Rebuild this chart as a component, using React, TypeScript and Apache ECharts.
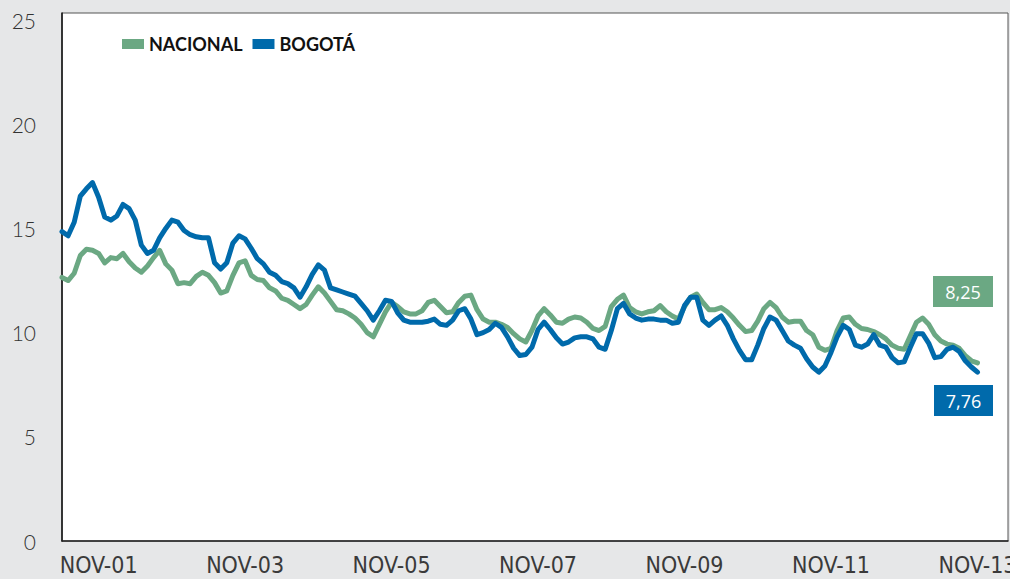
import React, { useEffect, useRef } from "react";
import * as echarts from "echarts";

const MONTHS = ["ENE", "FEB", "MAR", "ABR", "MAY", "JUN", "JUL", "AGO", "SEP", "OCT", "NOV", "DIC"];
const START_YEAR = 2001;
const START_MONTH = 4; // May 2001
const CATEGORY_COUNT = 156; // May 2001 .. Apr 2014 (axis extends past last data point)

const categories: string[] = [];
for (let i = 0; i < CATEGORY_COUNT; i++) {
  const m = (START_MONTH + i) % 12;
  const y = START_YEAR + Math.floor((START_MONTH + i) / 12);
  categories.push(MONTHS[m] + "-" + String(y % 100).padStart(2, "0"));
}

const xTickLabels = ["NOV-01", "NOV-03", "NOV-05", "NOV-07", "NOV-09", "NOV-11", "NOV-13"];

const nacional = [
  12.65, 12.5, 12.85, 13.7, 14.0, 13.95, 13.8, 13.35, 13.6, 13.55,
  13.8, 13.4, 13.1, 12.9, 13.2, 13.6, 13.95, 13.3, 13.0, 12.35,
  12.4, 12.35, 12.7, 12.9, 12.75, 12.4, 11.9, 12.0, 12.75, 13.35,
  13.45, 12.75, 12.55, 12.5, 12.15, 12.0, 11.65, 11.55, 11.35, 11.15,
  11.35, 11.8, 12.2, 11.9, 11.5, 11.1, 11.05, 10.9, 10.7, 10.4,
  10.0, 9.8, 10.4, 11.0, 11.45, 11.25, 11.0, 10.9, 10.9, 11.05,
  11.45, 11.55, 11.25, 10.95, 11.0, 11.45, 11.75, 11.8, 11.1, 10.65,
  10.5, 10.5, 10.4, 10.25, 9.95, 9.7, 9.55, 10.1, 10.8, 11.15,
  10.85, 10.5, 10.45, 10.65, 10.75, 10.7, 10.5, 10.2, 10.1, 10.3,
  11.25, 11.6, 11.8, 11.2, 11.0, 10.9, 11.0, 11.05, 11.3, 11.0,
  10.8, 10.65, 11.25, 11.7, 11.85, 11.45, 11.1, 11.1, 11.2, 11.0,
  10.7, 10.35, 10.05, 10.1, 10.55, 11.15, 11.45, 11.2, 10.75, 10.5,
  10.55, 10.55, 10.1, 9.9, 9.3, 9.15, 9.25, 10.1, 10.7, 10.75,
  10.4, 10.2, 10.15, 10.05, 9.9, 9.7, 9.4, 9.25, 9.2, 9.85,
  10.5, 10.7, 10.4, 9.9, 9.6, 9.45, 9.4, 9.25, 8.9, 8.65,
  8.55,
];

const bogota = [
  14.85, 14.65, 15.3, 16.55, 16.9, 17.2, 16.5, 15.55, 15.4, 15.6,
  16.15, 15.95, 15.4, 14.2, 13.8, 13.95, 14.55, 15.0, 15.4, 15.3,
  14.9, 14.7, 14.6, 14.55, 14.55, 13.35, 13.05, 13.35, 14.3, 14.65,
  14.5, 14.05, 13.55, 13.3, 12.9, 12.75, 12.45, 12.35, 12.15, 11.7,
  12.2, 12.8, 13.25, 13.0, 12.15, 12.05, 11.95, 11.85, 11.75, 11.4,
  11.05, 10.6, 11.05, 11.55, 11.5, 10.95, 10.6, 10.5, 10.5, 10.5,
  10.55, 10.65, 10.4, 10.35, 10.6, 11.05, 11.15, 10.65, 9.9, 10.0,
  10.15, 10.45, 10.25, 9.8, 9.25, 8.9, 8.95, 9.3, 10.15, 10.5,
  10.15, 9.75, 9.45, 9.55, 9.75, 9.8, 9.8, 9.7, 9.3, 9.2,
  10.1, 11.15, 11.4, 10.9, 10.7, 10.6, 10.65, 10.65, 10.6, 10.6,
  10.45, 10.5, 11.3, 11.7, 11.7, 10.6, 10.35, 10.6, 10.8, 10.35,
  9.7, 9.15, 8.7, 8.7, 9.4, 10.2, 10.75, 10.6, 10.1, 9.6,
  9.4, 9.25, 8.75, 8.35, 8.1, 8.4, 9.05, 9.8, 10.35, 10.15,
  9.4, 9.3, 9.45, 9.9, 9.4, 9.3, 8.8, 8.55, 8.6, 9.3,
  9.95, 9.95, 9.5, 8.8, 8.85, 9.2, 9.3, 9.1, 8.65, 8.35,
  8.1,
];

const lastLabels = { nacional: "8,25", bogota: "7,76" };

const GREEN = "#6BA883";
const BLUE = "#006AAB";

export default function App() {
  const ref = useRef<HTMLDivElement>(null);

  useEffect(() => {
    if (!ref.current) return;
    const chart = echarts.init(ref.current, undefined, { renderer: "svg" });
    const option: any = {
      animation: false,
      backgroundColor: "#e6e7e8",
      grid: {
        left: 62,
        right: 2,
        top: 13,
        bottom: 38,
        outerBoundsMode: "none",
        containLabel: false,
        show: true,
        backgroundColor: "#ffffff",
        borderColor: "#555",
        borderWidth: 1,
      },
      legend: {
        left: 117,
        top: 30,
        icon: "rect",
        itemWidth: 22,
        itemHeight: 10,
        itemGap: 10,
        textStyle: { fontFamily: "Lato", fontWeight: "bold", fontSize: 18, color: "#111" },
        data: ["NACIONAL", "BOGOTÁ"],
      },
      xAxis: {
        type: "category",
        data: categories,
        boundaryGap: false,
        axisLine: { lineStyle: { color: "#222", width: 1.5 } },
        axisTick: { show: false },
        splitLine: { show: false },
        axisLabel: {
          interval: (_i: number, name: string) => xTickLabels.includes(name),
          margin: 12,
          fontSize: 23,
          lineHeight: 24,
          fontFamily: "'Liberation Sans Narrow', 'DejaVu Sans Condensed', sans-serif",
          color: "#3a3a3a",
        },
      },
      yAxis: {
        type: "value",
        min: 0,
        max: 25.34,
        interval: 5,
        axisLine: { show: true, lineStyle: { color: "#111", width: 1.5 } },
        axisTick: { show: false },
        splitLine: { show: false },
        axisLabel: {
          margin: 26,
          fontSize: 21,
          fontFamily: "Lato",
          fontWeight: 300,
          color: "#333",
          formatter: (v: number) => (Math.abs(v % 5) < 1e-6 ? String(v) : ""),
        },
      },
      series: [
        {
          name: "NACIONAL",
          type: "line",
          data: nacional,
          showSymbol: false,
          symbol: "none",
          itemStyle: { color: GREEN },
          lineStyle: { color: GREEN, width: 5, cap: "round", join: "round" },
          z: 2,
        },
        {
          name: "BOGOTÁ",
          type: "line",
          data: bogota,
          showSymbol: false,
          symbol: "none",
          itemStyle: { color: BLUE },
          lineStyle: { color: BLUE, width: 5, cap: "round", join: "round" },
          z: 3,
        },
      ],
      graphic: [
        {
          type: "rect",
          left: 933,
          top: 276,
          shape: { width: 60, height: 31 },
          style: { fill: GREEN },
          z: 10,
        },
        {
          type: "text",
          x: 963,
          y: 292,
          style: {
            text: lastLabels.nacional,
            fill: "#fff",
            fontSize: 18,
            fontFamily: "'Open Sans', sans-serif",
            textAlign: "center",
            textVerticalAlign: "middle",
          },
          z: 11,
        },
        {
          type: "rect",
          left: 934,
          top: 385,
          shape: { width: 59, height: 31 },
          style: { fill: BLUE },
          z: 10,
        },
        {
          type: "text",
          x: 963.5,
          y: 401,
          style: {
            text: lastLabels.bogota,
            fill: "#fff",
            fontSize: 18,
            fontFamily: "'Open Sans', sans-serif",
            textAlign: "center",
            textVerticalAlign: "middle",
          },
          z: 11,
        },
      ],
    };
    chart.setOption(option);
    return () => chart.dispose();
  }, []);

  return (
    <div
      ref={ref}
      style={{ position: "fixed", left: 0, top: 0, width: 1010, height: 579 }}
    />
  );
}
